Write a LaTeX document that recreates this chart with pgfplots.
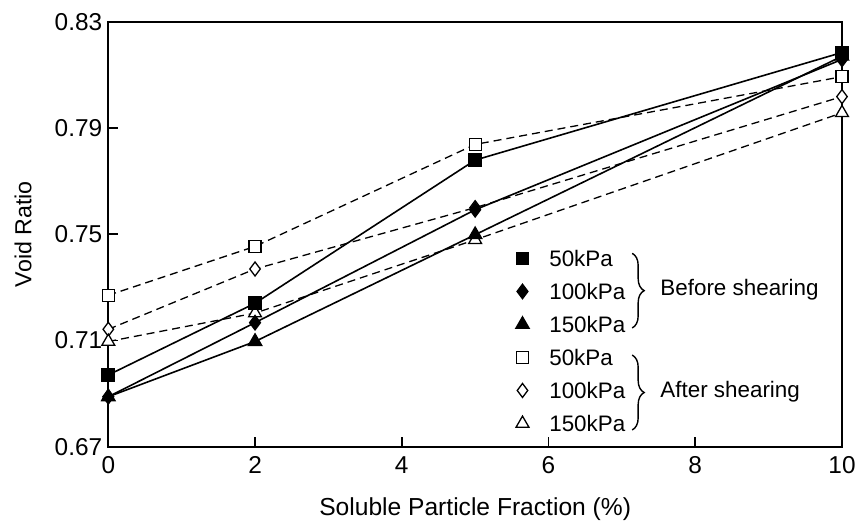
\documentclass[border=0pt]{standalone}
\usepackage{fontspec}
\setmainfont{Liberation Sans}
\usepackage{pgfplots}
\pgfplotsset{compat=1.18}
\usetikzlibrary{decorations.pathreplacing}

\begin{document}
\begin{tikzpicture}
\begin{axis}[
    scale only axis,
    width=366.85pt, height=212.5pt,
    xmin=0, xmax=10,
    ymin=0.67, ymax=0.83,
    xtick={0,2,4,6,8,10},
    ytick={0.67,0.71,0.75,0.79,0.83},
    ticklabel style={font=\fontsize{12.2}{14}\selectfont},
    xticklabel style={yshift=-1.5pt},
    yticklabel style={xshift=0.5pt, /pgf/number format/.cd, fixed, fixed zerofill, precision=2},
    /pgf/number format/assume math mode=true,
    tick align=inside,
    tick pos=left,
    major tick length=5pt,
    tick style={line width=0.8pt, black},
    axis line style={line width=1pt},
    xlabel={Soluble Particle Fraction (\%)},
    ylabel={Void Ratio},
    xlabel style={font=\fontsize{12.3}{14}\selectfont, at={(axis description cs:0.5,-0.146)}, anchor=center},
    ylabel style={font=\fontsize{11.6}{14}\selectfont, at={(axis description cs:-0.1163,0.5)}, anchor=center},
    legend style={draw=none, fill=none, inner sep=0pt, outer sep=0pt,
        at={(rel axis cs:0.5498,0.4617)}, anchor=north west,
        font=\fontsize{11.2}{13}\selectfont,
        nodes={inner sep=0pt, text height=8pt, text depth=0pt},
        row sep=8.5pt},
    legend cell align=left,
    legend image code/.code={\draw[#1, only marks] plot coordinates {(0pt,0pt)}; \path (-5pt,0pt) (13pt,0pt);},
    solidline/.style={black, line width=0.8pt, mark options={solid, fill=black}},
    dashline/.style={black, line width=0.65pt, dash pattern=on 4pt off 2.5pt, mark options={solid, fill=white, line width=0.65pt}},
]

% after shearing (drawn first, underneath)
\addplot[dashline, mark=square*, mark size=3pt, forget plot]
    coordinates {(0,0.727) (2,0.7454) (5,0.7838) (10,0.8093)};
\addplot[dashline, mark=diamond*, mark size=3.5pt, forget plot]
    coordinates {(0,0.7142) (2,0.7369) (5,0.760) (10,0.8018)};
\addplot[dashline, mark=triangle*, mark size=3.7pt, forget plot]
    coordinates {(0,0.7096) (2,0.7203) (5,0.7479) (10,0.7957)};

% before shearing
\addplot[solidline, mark=square*, mark size=3pt]
    coordinates {(0,0.697) (2,0.724) (5,0.7779) (10,0.8184)};
\addplot[solidline, mark=diamond*, mark size=3.5pt]
    coordinates {(0,0.6888) (2,0.7167) (5,0.7592) (10,0.8158)};
\addplot[solidline, mark=triangle*, mark size=3.7pt]
    coordinates {(0,0.6888) (2,0.7096) (5,0.7498) (10,0.817)};

\addlegendimage{only marks, mark=square*, mark size=3pt, mark options={fill=white, line width=0.65pt}}
\addlegendimage{only marks, mark=diamond*, mark size=3.5pt, mark options={fill=white, line width=0.65pt}}
\addlegendimage{only marks, mark=triangle*, mark size=3.7pt, mark options={fill=white, line width=0.65pt}}

\legend{50kPa, 100kPa, 150kPa, 50kPa, 100kPa, 150kPa}

\draw[decorate, decoration={brace, amplitude=6pt}, line width=0.7pt]
    (axis cs:7.14,0.7428) -- (axis cs:7.14,0.7147);
\draw[decorate, decoration={brace, amplitude=6pt}, line width=0.7pt]
    (axis cs:7.14,0.7045) -- (axis cs:7.14,0.6763);
\node[anchor=west, inner sep=0pt, font=\fontsize{11.2}{13}\selectfont]
    at (axis cs:7.52,0.729) {Before shearing};
\node[anchor=west, inner sep=0pt, font=\fontsize{11.2}{13}\selectfont]
    at (axis cs:7.52,0.6906) {After shearing};
\end{axis}
\pgfresetboundingbox
\useasboundingbox (current axis.south west) ++(-54.15pt,-36.65pt)
    rectangle ([shift={(6.5pt,10.85pt)}]current axis.north east);
\end{tikzpicture}
\end{document}
